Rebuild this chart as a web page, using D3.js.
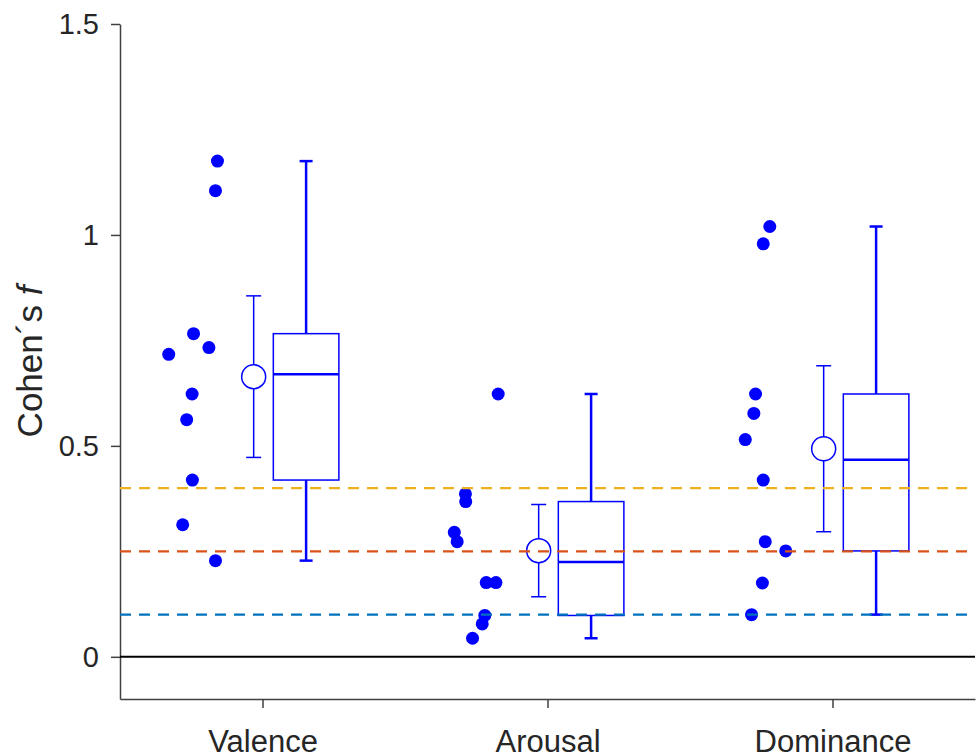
<!DOCTYPE html>
<html>
<head>
<meta charset="utf-8">
<script src="https://cdn.jsdelivr.net/npm/d3@7"></script>
<style>
  body { margin: 0; background: #fff; }
  svg { display: block; font-family: "Liberation Sans", Arial, sans-serif; }
</style>
</head>
<body>
<div id="chart"></div>
<script>
// categories and raw per-subject effect sizes
const categories = ["Valence", "Arousal", "Dominance"];
const valence   = [1.175, 1.105, 0.766, 0.733, 0.717, 0.623, 0.562, 0.419, 0.313, 0.228];
const arousal   = [0.623, 0.386, 0.368, 0.295, 0.273, 0.176, 0.176, 0.098, 0.078, 0.044];
const dominance = [1.020, 0.979, 0.623, 0.577, 0.515, 0.419, 0.273, 0.251, 0.175, 0.100];
// horizontal jitter of each dot, in category units relative to the tick
const valenceJitter   = [-0.158, -0.165, -0.242, -0.188, -0.329, -0.247, -0.266, -0.246, -0.280, -0.165];
const arousalJitter   = [-0.173, -0.288, -0.287, -0.327, -0.317, -0.215, -0.181, -0.220, -0.229, -0.263];
const dominanceJitter = [-0.220, -0.243, -0.270, -0.276, -0.306, -0.243, -0.236, -0.164, -0.246, -0.284];
// reference lines for small / medium / large effect
const refValues = [0.1, 0.25, 0.4];
const refColors = ["#0072BD", "#D95319", "#EDB120"];
const yTicks = [0, 0.5, 1, 1.5];

const groups = [valence, arousal, dominance];
const jitters = [valenceJitter, arousalJitter, dominanceJitter];

// set the dimensions and margins of the graph
const W = 977, H = 755;
const margin = {top: 24, right: 2, bottom: 56, left: 120};

const svg = d3.select("#chart")
    .append("svg")
    .attr("width", W)
    .attr("height", H);

const x = d3.scaleLinear()
    .domain([0.5, 3.5])
    .range([margin.left, W - margin.right]);

const y = d3.scaleLinear()
    .domain([-0.1, 1.5])
    .range([H - margin.bottom, margin.top]);

const blue = "#0000ff";
const axisColor = "#404040";

// MATLAB-style quantile (used by boxplot)
function mQuantile(arr, p) {
    const s = arr.slice().sort((a, b) => a - b);
    const n = s.length;
    const pos = n * p + 0.5;
    if (pos <= 1) return s[0];
    if (pos >= n) return s[n - 1];
    const lo = Math.floor(pos);
    return s[lo - 1] + (pos - lo) * (s[lo] - s[lo - 1]);
}

// axes
const xAxis = svg.append("g")
    .attr("transform", `translate(0,${y(-0.1)})`)
    .call(d3.axisBottom(x)
        .tickValues([1, 2, 3])
        .tickFormat((d, i) => categories[i])
        .tickSize(9)
        .tickSizeOuter(0)
        .tickPadding(22));

const yAxis = svg.append("g")
    .attr("transform", `translate(${x(0.5)},0)`)
    .call(d3.axisLeft(y)
        .tickValues(yTicks)
        .tickFormat(d3.format("~g"))
        .tickSize(9)
        .tickSizeOuter(0)
        .tickPadding(12));

svg.selectAll(".domain, .tick line")
    .attr("stroke", axisColor)
    .attr("stroke-width", 1.5);
yAxis.selectAll(".tick text")
    .attr("fill", "#262626")
    .style("font-size", "29px");
xAxis.selectAll(".tick text")
    .attr("fill", "#262626")
    .style("font-size", "31px");

// y label
svg.append("text")
    .attr("transform", `translate(42,${y(0.7)}) rotate(-90)`)
    .attr("text-anchor", "middle")
    .attr("fill", "#262626")
    .style("font-size", "35px")
    .text("Cohen´s ")
    .append("tspan")
    .style("font-style", "italic")
    .text("f");

// one group per condition
groups.forEach((vals, i) => {
    const c = i + 1;
    const g = svg.append("g");

    // single dots
    g.selectAll("circle.dot")
        .data(vals)
        .join("circle")
        .attr("class", "dot")
        .attr("cx", (d, j) => x(c + jitters[i][j]))
        .attr("cy", d => y(d))
        .attr("r", 6.5)
        .attr("fill", blue);

    // mean +- 1.96 SE
    const m = d3.mean(vals);
    const se = d3.deviation(vals) / Math.sqrt(vals.length);
    const mx = x(c - 0.031);
    g.append("line")
        .attr("x1", mx).attr("x2", mx)
        .attr("y1", y(m - 1.96 * se)).attr("y2", y(m + 1.96 * se))
        .attr("stroke", blue).attr("stroke-width", 1.5);
    [m - 1.96 * se, m + 1.96 * se].forEach(v => {
        g.append("line")
            .attr("x1", mx - 7.5).attr("x2", mx + 7.5)
            .attr("y1", y(v)).attr("y2", y(v))
            .attr("stroke", blue).attr("stroke-width", 1.5);
    });
    g.append("circle")
        .attr("cx", mx).attr("cy", y(m))
        .attr("r", 12)
        .attr("fill", "#fff")
        .attr("stroke", blue).attr("stroke-width", 1.5);

    // box plot
    const q1 = mQuantile(vals, 0.25), med = mQuantile(vals, 0.5), q3 = mQuantile(vals, 0.75);
    const lo = d3.min(vals), hi = d3.max(vals);
    const bx = x(c + 0.153);
    const bw = x(0.5 + 0.115) - x(0.5);
    [[q3, hi], [lo, q1]].forEach(([a, b]) => {
        g.append("line")
            .attr("x1", bx).attr("x2", bx)
            .attr("y1", y(a)).attr("y2", y(b))
            .attr("stroke", blue).attr("stroke-width", 2.5);
    });
    [lo, hi].forEach(v => {
        g.append("line")
            .attr("x1", bx - 6.5).attr("x2", bx + 6.5)
            .attr("y1", y(v)).attr("y2", y(v))
            .attr("stroke", blue).attr("stroke-width", 2.5);
    });
    g.append("rect")
        .attr("x", bx - bw).attr("width", 2 * bw)
        .attr("y", y(q3)).attr("height", y(q1) - y(q3))
        .attr("fill", "none")
        .attr("stroke", blue).attr("stroke-width", 1.5);
    g.append("line")
        .attr("x1", bx - bw).attr("x2", bx + bw)
        .attr("y1", y(med)).attr("y2", y(med))
        .attr("stroke", blue).attr("stroke-width", 2.5);
});

// dashed reference lines on top
svg.selectAll("line.ref")
    .data(refValues)
    .join("line")
    .attr("class", "ref")
    .attr("x1", x(0.5)).attr("x2", x(3.5))
    .attr("y1", d => y(d)).attr("y2", d => y(d))
    .attr("stroke", (d, i) => refColors[i])
    .attr("stroke-width", 2.2)
    .attr("stroke-dasharray", "11,8");

// zero line
svg.append("line")
    .attr("x1", x(0.5)).attr("x2", x(3.5))
    .attr("y1", y(0)).attr("y2", y(0))
    .attr("stroke", "#000")
    .attr("stroke-width", 2);
</script>
</body>
</html>
